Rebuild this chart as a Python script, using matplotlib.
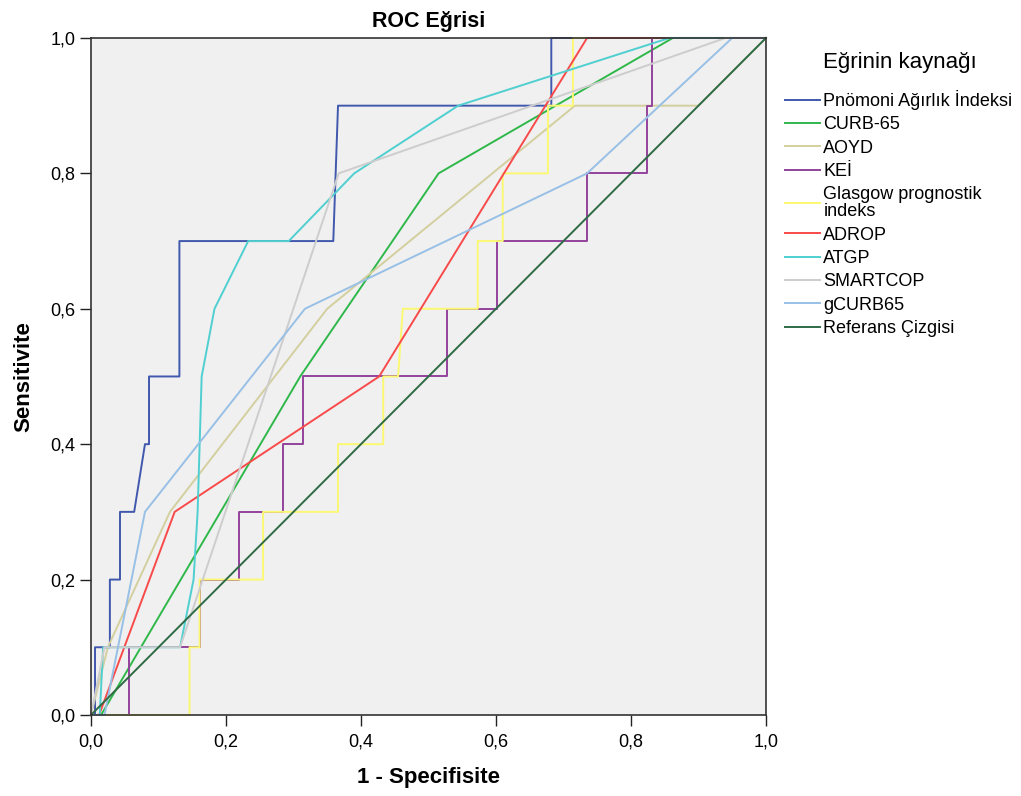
import matplotlib
matplotlib.use("Agg")
import matplotlib.pyplot as plt

plt.rcParams['font.family'] = ['Liberation Sans', 'DejaVu Sans']

# ROC eğrileri (1 - Specifisite, Sensitivite)
pai_x = [0, 0.006, 0.006, 0.028, 0.028, 0.043, 0.043, 0.064, 0.08, 0.086, 0.086, 0.131, 0.131, 0.359, 0.366, 0.682, 0.682, 1.0]
pai_y = [0, 0, 0.1, 0.1, 0.2, 0.2, 0.3, 0.3, 0.4, 0.4, 0.5, 0.5, 0.7, 0.7, 0.9, 0.9, 1.0, 1.0]

curb_x = [0, 0.015, 0.31, 0.515, 0.862, 1.0]
curb_y = [0, 0, 0.5, 0.8, 1.0, 1.0]

aoyd_x = [0, 0.025, 0.117, 0.35, 0.717, 0.9, 1.0]
aoyd_y = [0, 0.1, 0.3, 0.6, 0.9, 0.9, 1.0]

kei_x = [0, 0.057, 0.057, 0.161, 0.161, 0.219, 0.219, 0.285, 0.285, 0.314, 0.314, 0.528, 0.528, 0.601, 0.601, 0.735, 0.735, 0.824, 0.824, 0.831, 0.831, 1.0]
kei_y = [0, 0, 0.1, 0.1, 0.2, 0.2, 0.3, 0.3, 0.4, 0.4, 0.5, 0.5, 0.6, 0.6, 0.7, 0.7, 0.8, 0.8, 0.9, 0.9, 1.0, 1.0]

gpi_x = [0, 0.146, 0.146, 0.161, 0.161, 0.255, 0.255, 0.366, 0.366, 0.433, 0.433, 0.455, 0.462, 0.573, 0.573, 0.61, 0.61, 0.677, 0.677, 0.714, 0.714, 1.0]
gpi_y = [0, 0, 0.1, 0.1, 0.2, 0.2, 0.3, 0.3, 0.4, 0.4, 0.5, 0.5, 0.6, 0.6, 0.7, 0.7, 0.8, 0.8, 0.9, 0.9, 1.0, 1.0]

adrop_x = [0, 0.012, 0.124, 0.427, 0.735, 1.0]
adrop_y = [0, 0, 0.3, 0.5, 1.0, 1.0]

atgp_x = [0, 0.013, 0.018, 0.132, 0.152, 0.158, 0.164, 0.183, 0.233, 0.293, 0.39, 0.544, 0.857, 1.0]
atgp_y = [0, 0, 0.1, 0.1, 0.2, 0.3, 0.5, 0.6, 0.7, 0.7, 0.8, 0.9, 1.0, 1.0]

smart_x = [0, 0.02, 0.132, 0.367, 0.94, 1.0]
smart_y = [0, 0.1, 0.1, 0.8, 1.0, 1.0]

gcurb_x = [0, 0.02, 0.08, 0.317, 0.735, 0.95, 1.0]
gcurb_y = [0, 0, 0.3, 0.6, 0.8, 1.0, 1.0]

ref_x = [0, 1]
ref_y = [0, 1]

series = [
    ("Pnömoni Ağırlık İndeksi", pai_x, pai_y, "#4058ad"),
    ("CURB-65", curb_x, curb_y, "#2fb84a"),
    ("AOYD", aoyd_x, aoyd_y, "#d3cf9e"),
    ("KEİ", kei_x, kei_y, "#92439a"),
    ("Glasgow prognostik\nindeks", gpi_x, gpi_y, "#fbf871"),
    ("ADROP", adrop_x, adrop_y, "#f84a4a"),
    ("ATGP", atgp_x, atgp_y, "#4fcfd0"),
    ("SMARTCOP", smart_x, smart_y, "#cdcdcd"),
    ("gCURB65", gcurb_x, gcurb_y, "#98c0e6"),
    ("Referans Çizgisi", ref_x, ref_y, "#2e6b45"),
]

fig = plt.figure(figsize=(10.21, 7.96), dpi=100)
ax = fig.add_axes([0.0891, 0.1018, 0.6611, 0.8505])
ax.set_facecolor("#f0f0f0")

handles = []
for name, xs, ys, col in series:
    h, = ax.plot(xs, ys, color=col, lw=1.4, label=name, clip_on=False)
    handles.append(h)

ax.set_xlim(0, 1)
ax.set_ylim(0, 1)
ticks = [0, 0.2, 0.4, 0.6, 0.8, 1.0]
tick_labels = ["0,0", "0,2", "0,4", "0,6", "0,8", "1,0"]
ax.set_xticks(ticks)
ax.set_xticklabels(tick_labels)
ax.set_yticks(ticks)
ax.set_yticklabels(tick_labels)
ax.tick_params(direction="out", length=8, width=1, labelsize=13, color="#222222")
ax.tick_params(axis="x", pad=5)
ax.tick_params(axis="y", pad=3)
for s in ax.spines.values():
    s.set_color("#333333")
    s.set_linewidth(1.2)

ax.set_title("ROC Eğrisi", fontsize=15.5, fontweight="bold", pad=8)
ax.set_xlabel("1 - Specifisite", fontsize=16, fontweight="bold", labelpad=12)
ax.set_ylabel("Sensitivite", fontsize=16, fontweight="bold", labelpad=12)

fig.text(0.806, 0.922, "Eğrinin kaynağı", fontsize=16, va="center", ha="left")
leg = fig.legend(handles=handles, loc="upper left", bbox_to_anchor=(0.769, 0.887),
                 frameon=False, fontsize=13, handlelength=1.95, handletextpad=0.17,
                 labelspacing=0.35, borderaxespad=0, borderpad=0)
leg.get_texts()[4].set_linespacing(1.0)

fig.savefig("out.png", dpi=100, facecolor="white")
